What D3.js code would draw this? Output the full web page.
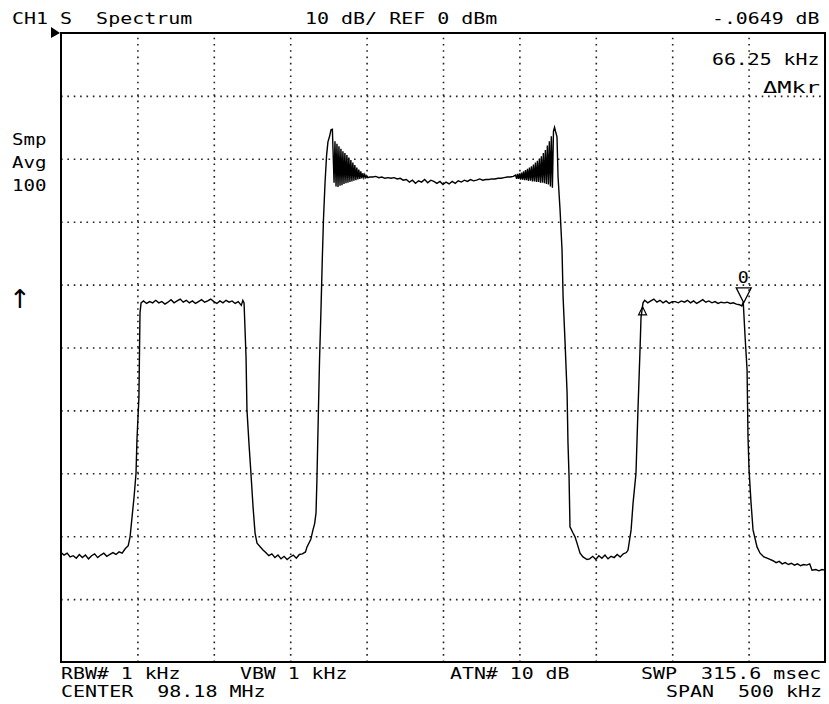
<!DOCTYPE html>
<html>
<head>
<meta charset="utf-8">
<script src="https://cdn.jsdelivr.net/npm/d3@7"></script>
<style>
  html, body { margin: 0; padding: 0; background: #fff; }
  svg { display: block; }
  .lbl { font-family: 'DejaVu Sans Mono', monospace; font-size: 15px; fill: #000; white-space: pre; }
</style>
</head>
<body>
<svg id="chart" width="829" height="704"></svg>
<script>
// ---------------- DATA (frequency offset from centre in kHz, level in dBm) ----------------
const xGridKHz = [-200, -150, -100, -50, 0, 50, 100, 150, 200];
const yGridDbm = [-10, -20, -30, -40, -50, -60, -70, -80, -90];

const leftFloor = [[-250,-82.6],[-248,-83.0],[-246,-82.7],[-244,-83.3],[-242,-83.1],[-240,-83.5],[-238,-82.9],[-236,-83.4],[-234,-83.0],[-232,-83.6],[-230,-83.1],[-228,-82.8],[-226,-83.4],[-224,-83.0],[-222,-82.7],[-220,-83.2],[-218,-82.9],[-216,-82.6],[-214,-82.9],[-212,-82.5],[-210,-82.7],[-208,-82.0],[-206,-81.5]];
const rise1 = [[-204.8,-80.1],[-202.2,-73.8],[-200.9,-70.0],[-200.3,-64.7],[-199.0,-57.9],[-198.3,-44.5],[-197.6,-42.9]];
const plateau1 = [[-196,-42.6],[-194,-43.0],[-192,-42.7],[-190,-42.9],[-188,-42.5],[-186,-42.9],[-184,-42.7],[-182,-43.1],[-180,-42.8],[-178,-42.4],[-176,-42.9],[-174,-42.6],[-172,-42.3],[-170,-42.8],[-168,-42.5],[-166,-42.9],[-164,-42.6],[-162,-43.0],[-160,-42.7],[-158,-42.4],[-156,-42.8],[-154,-42.6],[-152,-42.3],[-150,-42.7],[-148,-43.0],[-146,-42.6],[-144,-42.9],[-142,-42.5],[-140,-42.8],[-138,-42.6],[-136,-43.0],[-134,-42.7],[-132,-43.3],[-131,-42.5]];
const drop1 = [[-130.2,-42.9],[-128.9,-51.5],[-128.3,-59.9],[-127.0,-65.2],[-125.7,-70.0],[-124.3,-75.4],[-123.0,-79.5],[-121.7,-81.1],[-117.8,-82.2]];
const floor2 = [[-116,-82.6],[-114,-83.1],[-112,-82.8],[-110,-83.4],[-108,-83.0],[-106,-83.6],[-104,-83.2],[-102,-83.7],[-100,-83.3],[-98,-83.0],[-96,-83.5],[-94,-82.9],[-92,-82.8],[-90,-82.5]];
const rise2 = [[-89,-81.7],[-86.5,-80.5],[-85.1,-79.0],[-84,-78.0],[-83.1,-76.3],[-82.5,-71.0],[-81.8,-63.0],[-80.8,-52.0],[-79.8,-43.5],[-79.0,-36.0],[-78.2,-29.5],[-77.2,-23.8],[-76.2,-19.5],[-75.3,-17.3],[-74.3,-16.5],[-73.3,-15.4],[-72.4,-15.3]];
const ripple1 = [[-71.3,-23.8],[-70.7,-17.2],[-70.0,-24.4],[-69.4,-17.6],[-68.7,-24.5],[-68.1,-18.0],[-67.4,-24.3],[-66.8,-18.4],[-66.1,-24.2],[-65.5,-18.8],[-64.8,-24.0],[-64.2,-19.1],[-63.5,-23.9],[-62.9,-19.4],[-62.2,-23.8],[-61.6,-19.8],[-60.9,-23.7],[-60.3,-20.2],[-59.6,-23.6],[-59.0,-20.6],[-58.3,-23.5],[-57.7,-21.0],[-57.0,-23.4],[-56.4,-21.4],[-55.7,-23.3],[-55.1,-21.7],[-54.4,-23.2],[-53.8,-22.0],[-53.1,-23.1],[-52.5,-22.3],[-51.8,-23.0],[-51.2,-22.5],[-50.5,-23.0],[-49.9,-22.7],[-49.2,-23.0],[-48.0,-22.9]];
const centre = [[-46,-22.9],[-44,-22.8],[-42,-23.0],[-40,-22.9],[-38,-23.1],[-36,-23.0],[-34,-23.1],[-32,-23.0],[-30,-23.2],[-28,-23.1],[-26,-23.4],[-24,-23.3],[-22,-23.7],[-20,-23.4],[-18,-23.9],[-16,-23.5],[-14,-23.7],[-12,-23.3],[-10,-23.8],[-8,-23.4],[-6,-23.6],[-4,-23.9],[-2,-23.6],[0,-24.1],[2,-23.7],[4,-24.0],[6,-23.6],[8,-23.9],[10,-23.5],[12,-23.7],[14,-23.4],[16,-23.6],[18,-23.3],[20,-23.5],[22,-23.4],[24,-23.2],[26,-23.4],[28,-23.3],[30,-23.3],[32,-23.2],[34,-23.2],[36,-23.1],[38,-23.1],[40,-23.0],[42,-22.9],[44,-22.9],[46,-22.8]];
const ripple2 = [[47.5,-22.6],[48.2,-23.2],[48.8,-22.4],[49.5,-23.2],[50.1,-22.3],[50.8,-23.3],[51.4,-22.2],[52.1,-23.3],[52.7,-22.0],[53.4,-23.4],[54.0,-21.8],[54.7,-23.4],[55.3,-21.6],[56.0,-23.5],[56.6,-21.4],[57.3,-23.5],[57.9,-21.2],[58.6,-23.6],[59.2,-20.9],[59.9,-23.6],[60.5,-20.6],[61.2,-23.7],[61.8,-20.3],[62.5,-23.7],[63.1,-20.0],[63.8,-23.8],[64.4,-19.6],[65.1,-23.8],[65.7,-19.1],[66.4,-23.9],[67.0,-18.6],[67.7,-24.0],[68.3,-17.9],[69.0,-24.1],[69.6,-17.2],[70.3,-24.4],[70.9,-16.4],[71.6,-24.6],[72.3,-15.6],[73.0,-15.0],[73.6,-15.6]];
const drop2 = [[74.6,-16.5],[75.3,-22.9],[76.6,-28.1],[77.9,-34.5],[78.6,-42.0],[79.9,-49.3],[81.2,-57.2],[81.8,-65.2],[82.5,-70.6],[83.1,-78.5],[85.1,-79.5],[86.4,-80.1],[87.7,-81.1],[89.7,-82.7],[91.6,-83.3],[94.3,-83.7]];
const floor3 = [[96,-83.6],[98,-83.2],[100,-83.7],[102,-83.1],[104,-83.5],[106,-83.0],[108,-83.6],[110,-83.2],[112,-83.4],[114,-82.9],[116,-83.3],[118,-82.8],[120,-82.6],[121.1,-82.2]];
const rise3 = [[123.1,-79.0],[124.4,-74.7],[126.3,-70.0],[127.6,-59.9],[129.0,-49.9],[129.6,-45.2],[130.9,-42.9]];
const plateau2 = [[132,-42.5],[134,-42.9],[136,-42.6],[138,-42.3],[140,-42.8],[142,-42.5],[144,-42.9],[146,-42.6],[148,-43.0],[150,-42.7],[152,-42.7],[154,-42.9],[156,-42.6],[158,-42.8],[160,-42.5],[162,-42.9],[164,-42.6],[166,-43.0],[168,-42.7],[170,-42.4],[172,-42.8],[174,-42.6],[176,-42.9],[178,-42.7],[180,-43.0],[182,-42.8],[184,-42.9],[186,-42.8],[188,-43.0],[190,-42.9],[192,-43.1],[194,-43.2],[195.5,-43.4],[196.5,-42.8]];
const drop3 = [[197.7,-48.3],[199.0,-53.6],[199.6,-64.2],[200.3,-69.5],[201.6,-74.7],[202.9,-79.0],[205.5,-81.7],[207.5,-82.7],[210,-83.3],[212.1,-83.5]];
const rightFloor = [[214,-83.7],[216,-83.9],[218,-84.2],[220,-84.0],[222,-84.4],[224,-84.2],[226,-84.5],[228,-84.3],[230,-84.6],[232,-84.4],[234,-84.7],[236,-84.5],[238,-84.6],[240,-84.4],[241.5,-85.4],[244,-85.3],[246,-85.5],[248,-85.3],[250,-85.4]];

const markerKHz = 196.8, markerDbm = -42.9;      // marker 0
const refMarkerKHz = 130.6, refMarkerDbm = -42.9; // delta reference

const headerTexts = ["CH1 S  Spectrum", "10 dB/ REF 0 dBm", "-.0649 dB", "66.25 kHz", "ΔMkr"];
const sideTexts = ["Smp", "Avg", "100", "↑"];
const footerTexts = ["RBW# 1 kHz", "VBW 1 kHz", "ATN# 10 dB", "SWP  315.6 msec", "CENTER  98.18 MHz", "SPAN  500 kHz"];

// ---------------- DRAWING ----------------
const trace = [].concat(leftFloor, rise1, plateau1, drop1, floor2, rise2, ripple1, centre,
                        ripple2, drop2, floor3, rise3, plateau2, drop3, rightFloor);

const svg = d3.select("#chart");
const L = 61, R = 825, T = 33, B = 662;
const CELL = 12.15; // character cell width of the instrument font
const x = d3.scaleLinear().domain([-250, 250]).range([L, R]);
const y = d3.scaleLinear().domain([-100, 0]).range([B, T]);

svg.append("rect").attr("width", 829).attr("height", 704).attr("fill", "#fff");

// grid (dotted) via axes
const gx = svg.append("g").attr("transform", `translate(0,${B})`)
  .call(d3.axisBottom(x).tickValues(xGridKHz).tickSize(-(B - T)).tickFormat(""));
gx.select(".domain").remove();
gx.selectAll(".tick line").attr("stroke", "#222").attr("stroke-width", 1.6)
  .attr("stroke-dasharray", "1.6 4.69");

const gy = svg.append("g").attr("transform", `translate(${L},0)`)
  .call(d3.axisLeft(y).tickValues(yGridDbm).tickSize(-(R - L)).tickFormat(""));
gy.select(".domain").remove();
gy.selectAll(".tick line").attr("stroke", "#222").attr("stroke-width", 1.6)
  .attr("stroke-dasharray", "1.6 4.77");

// frame
svg.append("rect").attr("x", L).attr("y", T).attr("width", R - L).attr("height", B - T)
  .attr("fill", "none").attr("stroke", "#000").attr("stroke-width", 2);

// reference level pointer
svg.append("path").attr("d", `M${L - 10},${T - 6} L${L - 1},${T} L${L - 10},${T + 5} Z`).attr("fill", "#000");

// trace
svg.append("path").datum(trace)
  .attr("d", d3.line().x(d => x(d[0])).y(d => y(d[1])))
  .attr("fill", "none").attr("stroke", "#000").attr("stroke-width", 1.4).attr("stroke-linejoin", "miter");

// markers
const mx = x(markerKHz), my = y(markerDbm);
svg.append("path").attr("d", `M${mx - 7.5},${my - 15} L${mx + 7.5},${my - 15} L${mx},${my} Z`)
  .attr("fill", "none").attr("stroke", "#000").attr("stroke-width", 1.3);
svg.append("text").attr("class", "lbl").attr("x", mx - 6).attr("y", my - 20)
  .attr("textLength", 11).attr("lengthAdjust", "spacingAndGlyphs").text("0");

const rx = x(refMarkerKHz), ry = y(refMarkerDbm);
svg.append("path").attr("d", `M${rx},${ry + 4} L${rx + 4},${ry + 12} L${rx - 4},${ry + 12} Z`)
  .attr("fill", "none").attr("stroke", "#000").attr("stroke-width", 1.2);

// texts
function label(t, tx, ty, len) {
  const w = len !== undefined ? len : t.length * CELL - 2;
  return svg.append("text").attr("class", "lbl").attr("x", tx).attr("y", ty)
    .attr("xml:space", "preserve")
    .attr("textLength", w).attr("lengthAdjust", "spacingAndGlyphs").text(t);
}
label(headerTexts[0], 12, 24);
label(headerTexts[1], 305, 24);
label(headerTexts[2], 712, 24);
label(headerTexts[3], 712, 65);
label(headerTexts[4], 763, 93, 57);

label(sideTexts[0], 12, 145);
label(sideTexts[1], 12, 168);
label(sideTexts[2], 12, 191);
svg.append("text").attr("x", 9).attr("y", 308).attr("fill", "#000")
  .style("font-family", "'DejaVu Sans', sans-serif").style("font-size", "26px")
  .text(sideTexts[3]);

label(footerTexts[0], 61, 679);
label(footerTexts[1], 240, 679);
label(footerTexts[2], 450, 679);
label(footerTexts[3], 641, 679);
label(footerTexts[4], 61, 697);
label(footerTexts[5], 666, 697);
</script>
</body>
</html>
